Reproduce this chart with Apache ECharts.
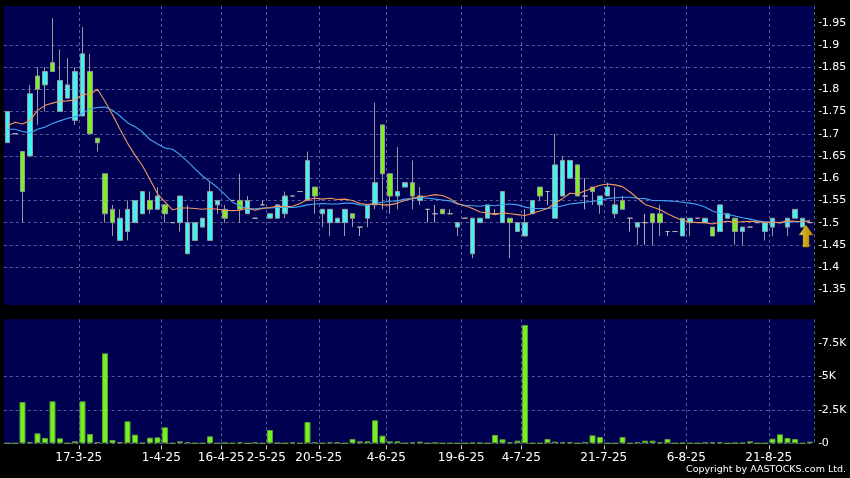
<!DOCTYPE html>
<html><head><meta charset="utf-8">
<script src="https://cdn.jsdelivr.net/npm/echarts@6/dist/echarts.min.js"></script>
<style>html,body{margin:0;padding:0;background:#000;}#c{width:850px;height:478px;}</style>
</head><body><div id="c"></div>
<script>
// ---- data ----
const opens = [1.68,1.70,1.66,1.65,1.83,1.81,1.86,1.75,1.78,1.73,
 1.74,1.84,1.69,1.61,1.53,1.46,1.48,1.50,1.52,1.55,
 1.53,1.54,1.50,1.50,1.43,1.46,1.49,1.46,1.54,1.53,
 1.55,1.55,1.52,1.51,1.54,1.51,1.51,1.52,1.56,1.57,
 1.55,1.58,1.52,1.50,1.50,1.50,1.52,1.49,1.51,1.54,
 1.72,1.61,1.56,1.58,1.59,1.55,1.53,1.52,1.53,1.52,
 1.49,1.51,1.43,1.50,1.51,1.52,1.50,1.51,1.48,1.47,
 1.52,1.58,1.57,1.51,1.56,1.60,1.63,1.56,1.58,1.54,
 1.56,1.52,1.55,1.51,1.49,1.50,1.52,1.52,1.48,1.48,
 1.47,1.50,1.51,1.50,1.49,1.48,1.51,1.51,1.48,1.49,
 1.50,1.48,1.49,1.50,1.49,1.51,1.49,1.50];
const closes = [1.75,1.70,1.57,1.79,1.80,1.84,1.84,1.82,1.81,1.84,
 1.88,1.70,1.68,1.52,1.50,1.51,1.53,1.55,1.57,1.53,
 1.56,1.52,1.50,1.56,1.50,1.50,1.51,1.57,1.55,1.51,
 1.55,1.53,1.55,1.51,1.54,1.52,1.54,1.56,1.56,1.57,
 1.64,1.56,1.53,1.53,1.51,1.53,1.51,1.49,1.54,1.59,
 1.61,1.56,1.57,1.59,1.56,1.56,1.53,1.52,1.52,1.52,
 1.50,1.51,1.51,1.51,1.54,1.52,1.57,1.50,1.50,1.50,
 1.55,1.56,1.57,1.63,1.64,1.64,1.56,1.56,1.57,1.56,
 1.58,1.54,1.53,1.51,1.50,1.50,1.50,1.50,1.48,1.48,
 1.51,1.51,1.51,1.51,1.47,1.54,1.52,1.48,1.49,1.49,
 1.50,1.50,1.51,1.50,1.51,1.53,1.51,1.50];
const lows = [1.68,1.70,1.50,1.65,1.72,1.75,1.84,1.75,1.78,1.72,
 1.74,1.70,1.66,1.50,1.47,1.46,1.46,1.50,1.52,1.52,
 1.53,1.50,1.50,1.48,1.43,1.46,1.49,1.46,1.52,1.50,
 1.55,1.50,1.52,1.51,1.54,1.51,1.51,1.51,1.56,1.57,
 1.55,1.52,1.49,1.47,1.50,1.47,1.49,1.47,1.49,1.53,
 1.53,1.52,1.53,1.58,1.53,1.54,1.50,1.50,1.52,1.52,
 1.47,1.51,1.42,1.50,1.51,1.52,1.50,1.42,1.48,1.47,
 1.52,1.55,1.54,1.51,1.56,1.60,1.56,1.53,1.54,1.52,
 1.56,1.51,1.53,1.48,1.45,1.45,1.45,1.47,1.47,1.48,
 1.47,1.47,1.51,1.50,1.47,1.48,1.51,1.45,1.45,1.49,
 1.50,1.46,1.47,1.50,1.47,1.51,1.49,1.50];
const highs = [1.75,1.70,1.66,1.81,1.85,1.85,1.96,1.89,1.87,1.85,
 1.94,1.88,1.69,1.61,1.54,1.53,1.55,1.55,1.57,1.57,
 1.58,1.54,1.50,1.56,1.54,1.50,1.51,1.59,1.55,1.54,
 1.55,1.61,1.56,1.51,1.55,1.52,1.54,1.57,1.56,1.57,
 1.66,1.58,1.53,1.53,1.51,1.53,1.52,1.49,1.54,1.77,
 1.72,1.61,1.67,1.59,1.64,1.58,1.53,1.54,1.53,1.53,
 1.50,1.51,1.51,1.51,1.54,1.53,1.57,1.51,1.50,1.53,
 1.55,1.58,1.57,1.70,1.65,1.64,1.63,1.60,1.58,1.56,
 1.59,1.58,1.56,1.51,1.50,1.52,1.52,1.54,1.48,1.48,
 1.51,1.51,1.51,1.51,1.49,1.54,1.52,1.51,1.49,1.49,
 1.50,1.50,1.51,1.50,1.51,1.53,1.51,1.50];
const volumes = [0,0,3100,100,750,400,3150,375,0,150,
 3150,700,100,6750,250,100,1650,650,30,425,
 450,1200,0,150,75,0,0,525,0,30,
 0,75,0,75,0,1000,30,0,75,0,
 1600,75,0,75,75,0,325,150,150,1725,
 575,150,150,0,75,125,0,60,0,0,
 0,0,30,30,0,625,300,75,200,8875,
 0,0,325,125,75,75,0,100,600,475,
 0,0,475,0,75,200,200,75,325,0,
 25,0,0,75,75,75,0,30,30,150,
 0,0,350,675,400,325,0,125];
const ma10 = [1.718,1.726,1.722,1.730,1.752,1.764,1.769,1.773,1.774,1.776,
 1.789,1.789,1.800,1.773,1.743,1.710,1.679,1.652,1.628,1.597,
 1.565,1.547,1.529,1.533,1.533,1.532,1.530,1.532,1.530,1.528,
 1.527,1.528,1.533,1.528,1.532,1.534,1.537,1.536,1.537,1.543,
 1.552,1.555,1.553,1.555,1.552,1.553,1.550,1.543,1.541,1.543,
 1.540,1.540,1.544,1.550,1.555,1.558,1.560,1.563,1.561,1.554,
 1.543,1.538,1.532,1.524,1.522,1.518,1.522,1.520,1.518,1.516,
 1.521,1.526,1.532,1.544,1.554,1.566,1.565,1.571,1.578,1.584,
 1.587,1.585,1.581,1.569,1.555,1.541,1.535,1.529,1.520,1.512,
 1.505,1.502,1.500,1.500,1.497,1.501,1.503,1.501,1.502,1.503,
 1.502,1.501,1.501,1.500,1.504,1.503,1.502,1.504];
const ma20 = [1.710,1.710,1.705,1.702,1.710,1.715,1.723,1.729,1.735,1.738,
 1.746,1.756,1.759,1.760,1.753,1.740,1.725,1.716,1.704,1.687,
 1.677,1.668,1.665,1.653,1.638,1.621,1.605,1.592,1.579,1.563,
 1.546,1.538,1.531,1.531,1.533,1.533,1.534,1.534,1.534,1.536,
 1.540,1.542,1.543,1.542,1.542,1.544,1.544,1.540,1.539,1.543,
 1.546,1.548,1.549,1.553,1.554,1.556,1.555,1.553,1.551,1.549,
 1.542,1.539,1.538,1.537,1.539,1.538,1.541,1.542,1.540,1.535,
 1.532,1.532,1.532,1.534,1.538,1.542,1.544,1.546,1.548,1.550,
 1.554,1.556,1.557,1.557,1.555,1.554,1.550,1.550,1.549,1.548,
 1.546,1.544,1.541,1.535,1.526,1.521,1.519,1.515,1.511,1.508,
 1.504,1.502,1.501,1.500,1.501,1.502,1.503,1.503];
const dateTickPos = [10,21,29,35,42,51,61,69,80,91,102];
const dateTickLabels = ['17-3-25','1-4-25','16-4-25','2-5-25','20-5-25','4-6-25','19-6-25','4-7-25','21-7-25','6-8-25','21-8-25'];
const priceTicks = [1.35,1.4,1.45,1.5,1.55,1.6,1.65,1.7,1.75,1.8,1.85,1.9,1.95];
const volumeTicks = [0,2500,5000,7500];
const lastMark = {index: 107, value: 1.47};

// ---- build ----
const cats = opens.map((_, i) => String(i));
const candles = opens.map((o, i) => [o, closes[i], lows[i], highs[i]]);
const gridSet = new Set(dateTickPos);
const FONT = 'DejaVu Sans';
const splitStyle = {color: '#5a5a98', type: [3, 3], width: 1};
const noLine = {show: false, onZero: false};

const chart = echarts.init(document.getElementById('c'), null, {renderer: 'canvas'});
chart.setOption({
  backgroundColor: '#000000',
  animation: false,
  grid: [
    {left: 3.75, top: 6, width: 810, height: 299, show: true, backgroundColor: '#000050', borderWidth: 0},
    {left: 3.75, top: 319.3, width: 810, height: 124, show: true, backgroundColor: '#000050', borderWidth: 0}
  ],
  xAxis: [
    {type: 'category', gridIndex: 0, data: cats, boundaryGap: true,
     axisLine: noLine, axisTick: {show: false}, axisLabel: {show: false},
     splitLine: {show: true, interval: (i) => gridSet.has(i), lineStyle: splitStyle}},
    {type: 'category', gridIndex: 1, data: cats, boundaryGap: true,
     axisLine: noLine, axisTick: {show: false}, axisLabel: {show: false},
     splitLine: {show: true, interval: (i) => gridSet.has(i), lineStyle: splitStyle}},
    {type: 'value', gridIndex: 1, min: 0, max: 108, position: 'bottom', offset: 2,
     axisLine: noLine, splitLine: {show: false},
     axisTick: {show: true, customValues: dateTickPos, length: 4, lineStyle: {color: '#cccccc'}},
     axisLabel: {show: true, customValues: dateTickPos, margin: 7, color: '#ffffff', fontFamily: FONT, fontSize: 12,
       formatter: (v) => { const k = dateTickPos.indexOf(Math.round(v)); return k >= 0 ? dateTickLabels[k] : ''; }}}
  ],
  yAxis: [
    {type: 'value', gridIndex: 0, position: 'right', offset: 5, min: 1.3147, max: 1.9875,
     splitNumber: 13, minInterval: 0.05, maxInterval: 0.05, scale: true,
     axisLine: noLine,
     axisTick: {show: true, length: 3, customValues: priceTicks, lineStyle: {color: '#cccccc'}},
     axisLabel: {customValues: priceTicks, margin: 3, color: '#ffffff', fontFamily: FONT, fontSize: 11,
       formatter: (v) => String(+v.toFixed(2))},
     splitLine: {show: true, showMinLine: false, showMaxLine: false, lineStyle: splitStyle}},
    {type: 'value', gridIndex: 1, position: 'right', offset: 5, min: 0, max: 9300,
     splitNumber: 4, minInterval: 2500, maxInterval: 2500,
     axisLine: noLine,
     axisTick: {show: true, length: 3, customValues: volumeTicks, lineStyle: {color: '#cccccc'}},
     axisLabel: {customValues: volumeTicks, margin: 3, color: '#ffffff', fontFamily: FONT, fontSize: 11,
       formatter: (v) => v === 0 ? '0' : (v / 1000) + 'K'},
     splitLine: {show: true, showMinLine: true, showMaxLine: false, lineStyle: splitStyle}}
  ],
  series: [
    {type: 'candlestick', xAxisIndex: 0, yAxisIndex: 0, data: candles, barWidth: 5, z: 2,
     itemStyle: {color: '#3ff4f4', color0: '#7cf022', borderColor: '#9a9a9a', borderColor0: '#9a9a9a',
       borderColorDoji: '#b0b0b0', borderWidth: 1}},
    {type: 'line', xAxisIndex: 0, yAxisIndex: 0, data: ma20, symbol: 'none', z: 3,
     lineStyle: {color: '#43a6f2', width: 1.1}},
    {type: 'line', xAxisIndex: 0, yAxisIndex: 0, data: ma10, symbol: 'none', z: 3,
     lineStyle: {color: '#f0985e', width: 1.1}},
    {type: 'scatter', xAxisIndex: 0, yAxisIndex: 0, data: [[lastMark.index, lastMark.value]], z: 5,
     symbol: 'path://M7,0 L14,10 L10,10 L10,22 L4,22 L4,10 L0,10 Z', symbolSize: [14, 22], symbolOffset: [-4, 0],
     itemStyle: {color: new echarts.graphic.LinearGradient(0, 0, 1, 0, [
       {offset: 0, color: '#fffac0'}, {offset: 0.45, color: '#ffd400'}, {offset: 1, color: '#e8a000'}]),
       borderColor: '#b07000', borderWidth: 0.6}},
    {type: 'bar', xAxisIndex: 1, yAxisIndex: 1, data: volumes, barWidth: 6,
     itemStyle: {color: '#72f21e', borderColor: '#5e9a36', borderWidth: 1}}
  ],
  graphic: [
    {type: 'text', right: 4, top: 465, style: {text: 'Copyright by AASTOCKS.com Ltd.', fill: '#ffffff',
      font: '9.5px "DejaVu Sans"'}}
  ]
});
</script>
</body></html>
